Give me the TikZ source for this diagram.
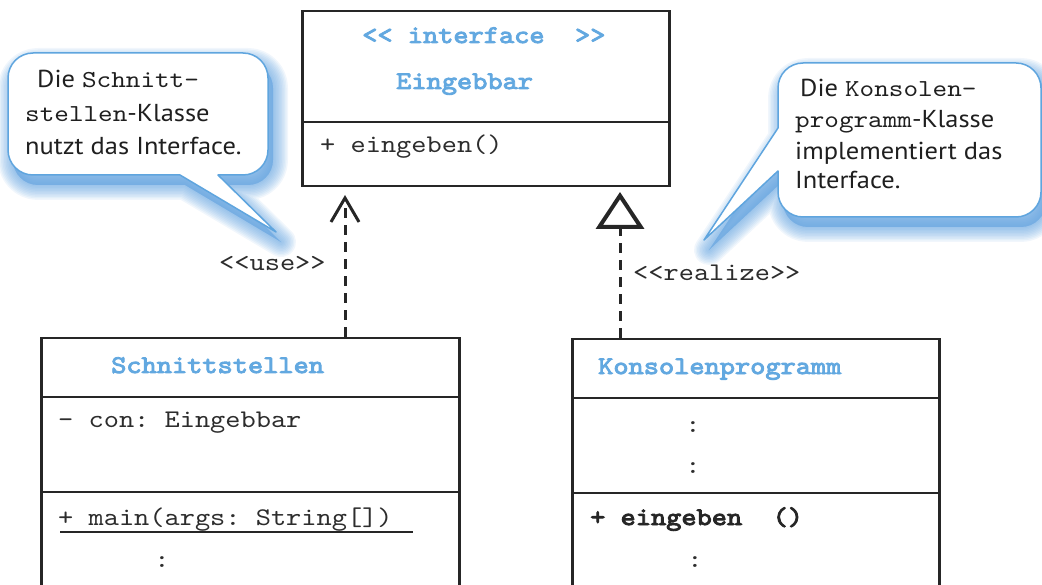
\documentclass[tikz,border=0pt]{standalone}
\usepackage{fontspec}
\setmainfont{PT Sans}[FakeStretch=1.08]
\newfontfamily\cour{lmmono10-regular.otf}[FakeStretch=1.14]
\newfontfamily\courbf{lmmono10-regular.otf}[FakeStretch=1.14,FakeBold=3.5]
\usetikzlibrary{arrows.meta}
\frenchspacing

\definecolor{ttlc}{RGB}{98,168,224}
\definecolor{boxc}{RGB}{38,38,38}
\definecolor{txtc}{RGB}{45,45,45}
\definecolor{bubc}{RGB}{95,165,222}
\definecolor{shadc}{RGB}{95,160,222}

% guillemet-free double angle brackets
\newcommand\dlt{<\kern0pt<}
\newcommand\dgt{>\kern0pt>}

\tikzset{
  umlbox/.style={draw=boxc, line width=2.5pt, fill=white, inner sep=0pt, anchor=north west},
  boxline/.style={draw=boxc, line width=2.5pt},
  mono/.style={inner sep=0pt, anchor=base west, text=txtc, font=\cour\fontsize{25.4}{30}\selectfont},
  monobf/.style={mono, text=boxc, font=\courbf\fontsize{25.4}{30}\selectfont},
  ttl/.style={monobf, text=ttlc},
  dots/.style={mono, anchor=base},
  bubtext/.style={inner sep=0pt, anchor=base west, text=black!88, font=\fontsize{24.5}{30}\selectfont},
  dep/.style={draw=boxc, line width=3pt, dash pattern=on 10pt off 7pt},
  lbpath/.style={insert path={(276,232) -- (218,175) [rounded corners=25pt] -- (268,175) -- (268,53) -- (8,53) -- (8,175) [sharp corners] -- (180,175) -- cycle}},
  rbpath/.style={insert path={(704,240) -- (778,171) [rounded corners=25pt] -- (778,217) -- (1041,217) -- (1041,63) -- (778,63) [sharp corners] -- (778,128) -- cycle}},
  bubble/.style={fill=white, draw=bubc, line width=1.5pt, line join=round},
}

\begin{document}
\begin{tikzpicture}[x=1pt, y=-1pt]
\useasboundingbox (0,0) rectangle (1042,585);
\clip (0,0) rectangle (1042,585);

% speech bubbles with soft blue shadows
\foreach \w in {30,27,...,3}{
  \filldraw[shadc, opacity=0.09, line width=\w pt, line join=round, shift={(5,10)}, lbpath];
  \filldraw[shadc, opacity=0.09, line width=\w pt, line join=round, shift={(5,10)}, rbpath];
}
\filldraw[bubble, lbpath];
\filldraw[bubble, rbpath];

\node[bubtext] (lb1) at (37,88) {Die {\cour\fontsize{24.4}{30}\selectfont Schnitt-}};
\node[bubtext] (lb2) at (25,122) {{\cour\fontsize{24.4}{30}\selectfont stellen}-Klasse};
\node[bubtext] (lb3) at (25,155) {nutzt das Interface.};

\node[bubtext] (rb1) at (800,97) {Die {\cour\fontsize{24.4}{30}\selectfont Konsolen-}};
\node[bubtext] (rb2) at (795,128) {{\cour\fontsize{24.4}{30}\selectfont programm}-Klasse};
\node[bubtext] (rb3) at (795,160) {implementiert das};
\node[bubtext] (rb4) at (795,189) {Interface.};

% interface class
\node[umlbox, minimum width=367pt, minimum height=175pt] (iface) at (301,10) {};
\draw[boxline] (301,122) -- (668,122);
\node[ttl] (ifst) at (362,43) {\dlt{} interface\ \ \dgt};
\node[ttl] (ifname) at (396,89) {Eingebbar};
\node[mono] (ifop) at (320,153) {+ eingeben()};

% class Schnittstellen
\node[umlbox, minimum width=418pt, minimum height=260pt] (schn) at (40,337) {};
\draw[boxline] (40,397) -- (458,397);
\draw[boxline] (40,492) -- (458,492);
\node[ttl] (schnname) at (111,373) {Schnittstellen};
\node[mono] (schnattr) at (58,428) {- con: Eingebbar};
\node[mono] (schnop) at (58,525) {+ main(args: String[])};
\draw[boxc, line width=1.3pt] (60,532) -- (413,532);
\node[dots] (schnd) at (162,567) {:};

% class Konsolenprogramm
\node[umlbox, minimum width=367pt, minimum height=260pt] (kons) at (571,338) {};
\draw[boxline] (571,398) -- (938,398);
\draw[boxline] (571,493) -- (938,493);
\node[ttl] (konsname) at (598,374) {Konsolenprogramm};
\node[dots] (konsd1) at (693,432) {:};
\node[dots] (konsd2) at (693,473) {:};
\node[monobf] (konsop) at (590,525) {+ eingeben\ \ ()};
\node[dots] (konsd3) at (695,567) {:};

% dependencies
\coordinate (useFrom) at (345,337);
\coordinate (useTo) at (345,195);
\draw[dep, -{Straight Barb[length=24pt, width=28pt, line width=3pt]}] (useFrom) -- (useTo);
\node[mono] (uselbl) at (219,271) {\dlt use\dgt};

\coordinate (realFrom) at (620,338);
\coordinate (realTo) at (620,192);
\draw[dep, -{Triangle[open, length=37pt, width=48pt, line width=4pt]}] (realFrom) -- (realTo);
\node[mono] (reallbl) at (633,281) {\dlt realize\dgt};
\end{tikzpicture}
\end{document}
